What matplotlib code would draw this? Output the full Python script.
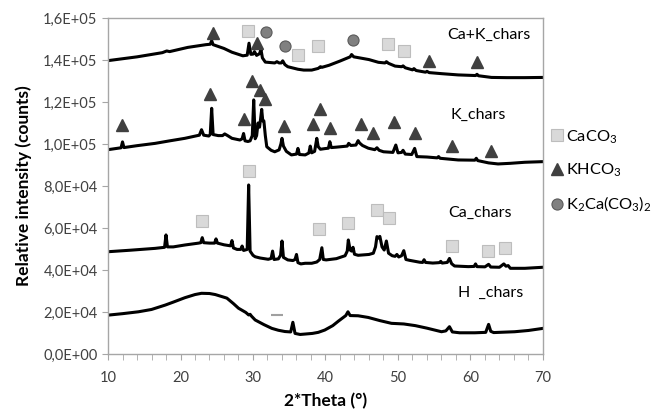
import matplotlib
matplotlib.use("Agg")
import matplotlib.pyplot as plt
from matplotlib.lines import Line2D
import matplotlib.ticker as mtick

plt.rcParams["font.family"] = ["Lato", "DejaVu Sans"]
plt.rcParams["mathtext.fontset"] = "custom"
plt.rcParams["mathtext.rm"] = "Lato"

# ── diffractograms (2θ in degrees, intensity in counts) ──────────────────────
cak_tt = [10, 14, 17.5, 18.1, 18.5, 21, 23.5, 24.1, 24.3, 24.5, 26, 27.1, 28.6,
          29.2, 29.45, 29.7, 30.0, 30.2, 30.5, 30.9, 31.1, 31.3, 31.7, 33.0,
          33.3, 33.6, 33.9, 34.1, 34.4, 34.8, 36.2, 37, 38.1, 39.0, 39.3, 39.5,
          40.5, 42, 43.4, 43.6, 43.9, 44.4, 46, 47.3, 48.2, 48.4, 48.7, 49.6,
          50.5, 50.7, 51, 52.0, 52.2, 52.5, 53.8, 54.0, 54.3, 56, 58.3, 60.7,
          60.9, 61.1, 62.9, 65, 67.5, 70]
cak_int = [139.7e3, 141.5e3, 143.5e3, 144.3e3, 144e3, 146e3, 147.3e3, 147.5e3,
           149.2e3, 147.3e3, 145.5e3, 143.7e3, 142e3, 142.3e3, 148e3, 142.7e3,
           142.8e3, 144e3, 142.2e3, 143e3, 145e3, 141e3, 139e3, 138.6e3,
           139.2e3, 138.6e3, 138.6e3, 139.6e3, 137.8e3, 136.8e3, 135.6e3,
           135.2e3, 135.2e3, 136e3, 136.8e3, 136.5e3, 137.5e3, 139.5e3,
           141.5e3, 142.6e3, 141.5e3, 141.2e3, 140.2e3, 138.9e3, 138.6e3,
           139.2e3, 138.4e3, 137.1e3, 136.8e3, 137.2e3, 136.3e3, 135.3e3,
           135.9e3, 135e3, 134.2e3, 134.6e3, 134e3, 133.5e3, 132.9e3, 132.6e3,
           133.2e3, 132.5e3, 131.7e3, 131.6e3, 131.6e3, 131.7e3]

k_tt = [10, 11.8, 12.0, 12.2, 14, 16.5, 18.5, 20.6, 22.6, 22.9, 23.2, 23.9, 24.1,
        24.3, 24.5, 25.2, 25.8, 26.1, 26.5, 27.1, 28.2, 28.5, 28.7, 28.9, 29.3,
        29.6, 29.9, 30.1, 30.3, 30.5, 30.7, 30.9, 31.05, 31.2, 31.35, 31.5,
        31.7, 31.9, 32.5, 33.0, 33.6, 33.85, 34.0, 34.2, 34.6, 35.3, 36.0, 36.2,
        36.4, 37.2, 37.7, 37.9, 38.1, 38.5, 38.8, 39.0, 39.3, 39.9, 40.4, 40.6,
        40.8, 41.5, 43.0, 43.2, 43.5, 44.2, 44.5, 44.7, 45.1, 45.9, 46.8, 47.1,
        47.4, 48.0, 49.3, 49.7, 50.0, 50.5, 50.7, 51.0, 51.9, 52.3, 52.6, 54,
        55.4, 55.6, 55.8, 58.3, 60.6, 60.8, 61.0, 62.5, 63.8, 65.5, 67.5, 70]
k_int = [97.3e3, 98.2e3, 101e3, 98.3e3, 99.2e3, 100.3e3, 101.5e3, 102.7e3,
         104.2e3, 106.8e3, 104.2e3, 103.8e3, 104.5e3, 117e3, 104.5e3, 104e3,
         104e3, 104.8e3, 104e3, 102.7e3, 101.9e3, 102.5e3, 105e3, 101.5e3,
         101.2e3, 101.5e3, 104e3, 121e3, 102.5e3, 104e3, 110e3, 108e3, 112e3,
         116.5e3, 111e3, 111e3, 104e3, 98.7e3, 97e3, 96.3e3, 97.2e3, 100e3,
         102.7e3, 99e3, 96.5e3, 94.8e3, 95.2e3, 97.9e3, 95e3, 94.8e3, 95.7e3,
         99e3, 95.8e3, 96.5e3, 102.7e3, 98.7e3, 97.5e3, 97.8e3, 98e3, 101.1e3,
         98.3e3, 98.5e3, 99e3, 100.3e3, 99.3e3, 99.5e3, 101.6e3, 100.5e3,
         99.3e3, 98e3, 97.3e3, 98.2e3, 97e3, 96.3e3, 96e3, 99.5e3, 95.8e3, 96e3,
         97e3, 95.2e3, 95e3, 97.9e3, 94e3, 93.8e3, 93.4e3, 94e3, 93.2e3,
         92.4e3, 92.3e3, 93.2e3, 92.1e3, 91e3, 90.5e3, 90.8e3, 91.3e3, 91.6e3]

ca_tt = [10, 13, 16.5, 17.8, 18.0, 18.2, 19, 20.6, 22.5, 22.8, 23.0, 23.2, 24.0,
         24.7, 24.9, 25.1, 26.0, 26.9, 27.1, 27.3, 27.8, 28.3, 28.5, 28.7, 29.2,
         29.4, 29.6, 30.0, 30.3, 31.0, 32.1, 32.5, 32.7, 32.9, 33.5, 33.8, 34.0,
         34.2, 34.8, 35.5, 35.8, 36.0, 36.2, 36.6, 37.2, 38.1, 38.8, 39.2, 39.5,
         39.7, 40.1, 41.5, 42.7, 43.0, 43.15, 43.4, 43.6, 43.8, 44.0, 44.5,
         46.0, 46.6, 46.9, 47.1, 47.3, 47.5, 47.8, 48.1, 48.4, 48.7, 49.2, 49.6,
         49.85, 50.1, 50.5, 50.8, 51.1, 51.6, 53.0, 53.4, 53.6, 53.8, 54.8,
         55.7, 55.9, 56.1, 56.8, 57.1, 57.4, 57.8, 59.7, 60.5, 60.7, 60.9, 62.0,
         62.5, 62.8, 64.0, 64.6, 64.9, 65.2, 65.5, 67.5, 70]
ca_int = [48.7e3, 49.4e3, 50.3e3, 50.8e3, 56.7e3, 51e3, 51e3, 51.9e3, 52.8e3,
          53e3, 55.4e3, 53e3, 52.8e3, 52.8e3, 54.8e3, 52.8e3, 52e3, 51.5e3,
          54e3, 50.5e3, 49.8e3, 49.8e3, 51.4e3, 49.3e3, 49.8e3, 80.5e3, 49e3,
          47e3, 46.3e3, 45.7e3, 45.1e3, 45.5e3, 49e3, 45e3, 45.3e3, 47e3,
          53.8e3, 46e3, 44.8e3, 44.5e3, 45e3, 47.4e3, 43.5e3, 42.9e3, 43.2e3,
          43.2e3, 43.8e3, 45e3, 50.6e3, 45e3, 44.8e3, 45.4e3, 46.8e3, 49e3,
          54.3e3, 49.5e3, 49e3, 50.8e3, 47.5e3, 47e3, 47.4e3, 48e3, 51e3,
          55.9e3, 55.2e3, 56e3, 51e3, 49.5e3, 53.8e3, 48e3, 46.8e3, 46.5e3,
          47.4e3, 46.2e3, 46.8e3, 49.2e3, 45e3, 44.6e3, 43.7e3, 43.6e3, 44.9e3,
          43.6e3, 43.3e3, 43.5e3, 44.1e3, 43.3e3, 43.6e3, 45.5e3, 43e3, 41.9e3,
          41.6e3, 41.7e3, 42.9e3, 41.6e3, 41.5e3, 42.7e3, 41.4e3, 41.3e3,
          42.9e3, 41.8e3, 42.1e3, 40.8e3, 40.8e3, 41.3e3]

h_tt = [10, 12, 14.2, 16, 17.9, 19, 20.6, 22, 22.9, 24, 24.8, 26.4, 27.3, 28.0,
        29.0, 29.4, 29.6, 29.8, 30.3, 31.5, 32.6, 33.5, 34.4, 35.2, 35.5, 35.8,
        36.5, 37.2, 38.2, 39.0, 39.9, 41.0, 41.8, 42.8, 43.1, 43.4, 44.5, 45.9,
        47.5, 49.1, 50.8, 52.4, 54, 56.0, 56.6, 57.1, 57.5, 58.5, 60.6, 62.1,
        62.5, 62.8, 63.2, 66.1, 68, 70]
h_int = [18.5e3, 19.2e3, 20.1e3, 21.2e3, 23.3e3, 24.7e3, 26.8e3, 28.3e3, 28.9e3,
         28.8e3, 28.3e3, 26.6e3, 24e3, 21.8e3, 19.8e3, 18.6e3, 18.9e3, 18e3,
         16.2e3, 14e3, 12.2e3, 11.3e3, 10.7e3, 10.5e3, 15.1e3, 9.8e3, 9.3e3,
         9.5e3, 9.8e3, 10.3e3, 11.4e3, 13.5e3, 15.7e3, 18.3e3, 20.1e3, 18.3e3,
         18.2e3, 17.4e3, 15.9e3, 14.6e3, 14.3e3, 13.5e3, 12.3e3, 10.6e3, 11e3,
         13e3, 10.5e3, 10.1e3, 10.1e3, 10.3e3, 14.1e3, 10.8e3, 10.2e3, 10.6e3,
         11.2e3, 12.2e3]

# ── phase markers ─────────────────────────────────────────────────────────────
caco3_tt = [29.3, 36.2, 39.0, 48.6, 50.8, 29.5, 23.0, 39.15, 43.1, 47.15, 48.8,
            57.4, 62.4, 64.75]
caco3_int = [153.8e3, 142.4e3, 146.7e3, 147.5e3, 144.3e3, 87.1e3, 63.5e3,
             59.4e3, 62.2e3, 68.6e3, 64.9e3, 51.4e3, 49.2e3, 50.3e3]
khco3_tt = [24.5, 30.6, 54.3, 60.9, 11.9, 24.1, 28.7, 29.9, 30.9, 31.65, 34.3,
            38.3, 39.25, 40.6, 44.9, 46.5, 49.4, 52.3, 57.4, 62.8]
khco3_int = [153e3, 148e3, 139.7e3, 139.2e3, 109e3, 123.8e3, 111.7e3, 130e3,
             125.5e3, 121.3e3, 108.6e3, 109.5e3, 116.5e3, 107.5e3, 109.5e3,
             105e3, 110.6e3, 105e3, 99.2e3, 96.7e3]
k2ca_tt = [31.8, 34.4, 43.75]
k2ca_int = [153.5e3, 146.7e3, 149.5e3]
dash_tt = [33.35]
dash_int = [18.6e3]

labels = ["Ca+K_chars", "K_chars", "Ca_chars", "H  _chars"]
label_tt = [62.5, 61.1, 61.3, 62.8]
label_int = [151.9e3, 113.8e3, 67.0e3, 29.2e3]

SQ = dict(marker="s", color="#d9d9d9", mec="#bdbdbd", mew=0.8, ms=8, ls="none")
TRI = dict(marker="^", color="#404040", mec="#404040", ms=8.5, ls="none")
CIR = dict(marker="o", color="#808080", mec="#5a5a5a", mew=0.8, ms=8, ls="none")
GRAY = "#a6a6a6"

fig = plt.figure(figsize=(6.53, 4.12), dpi=100)
ax = fig.add_axes([0.1654, 0.1408, 0.6661, 0.8155])

for tt, inten in [(cak_tt, cak_int), (k_tt, k_int), (ca_tt, ca_int), (h_tt, h_int)]:
    ax.plot(tt, inten, color="black", lw=2.2, solid_joinstyle="round")

ax.plot(caco3_tt, caco3_int, **SQ)
ax.plot(khco3_tt, khco3_int, **TRI)
ax.plot(k2ca_tt, k2ca_int, **CIR)
ax.plot(dash_tt, dash_int, marker="_", color="#a0a0a0", ms=9, mew=1.5, ls="none")

for txt, x, y in zip(labels, label_tt, label_int):
    ax.text(x, y, txt, ha="center", va="center", fontsize=11.5)

ax.set_xlim(10, 70)
ax.set_ylim(0, 1.6e5)
ax.xaxis.set_major_locator(mtick.MultipleLocator(10))
ax.xaxis.set_minor_locator(mtick.MultipleLocator(2))
ax.yaxis.set_major_locator(mtick.MultipleLocator(2e4))
ax.yaxis.set_major_formatter(
    mtick.FuncFormatter(lambda v, p: f"{v:.1E}".replace(".", ",")))
for s in ax.spines.values():
    s.set_color(GRAY)
    s.set_linewidth(1.0)
ax.tick_params(which="both", direction="out", color=GRAY, length=4,
               labelsize=10.5, labelcolor="#404040")
ax.tick_params(axis="x", pad=8)
ax.set_xlabel("2*Theta (°)", fontsize=12.5, fontweight="bold", labelpad=6)
ax.set_ylabel("Relative intensity (counts)", fontsize=12.5, fontweight="bold",
              labelpad=8)

handles = [Line2D([], [], **SQ), Line2D([], [], **TRI), Line2D([], [], **CIR)]
fig.legend(handles, ["CaCO$_3$", "KHCO$_3$", "K$_2$Ca(CO$_3$)$_2$"],
           loc="upper left", bbox_to_anchor=(0.836, 0.705), frameon=False,
           fontsize=11.8, handlelength=0.55, handletextpad=0.3,
           labelspacing=0.95, borderaxespad=0)

fig.savefig("out.png", dpi=100)
